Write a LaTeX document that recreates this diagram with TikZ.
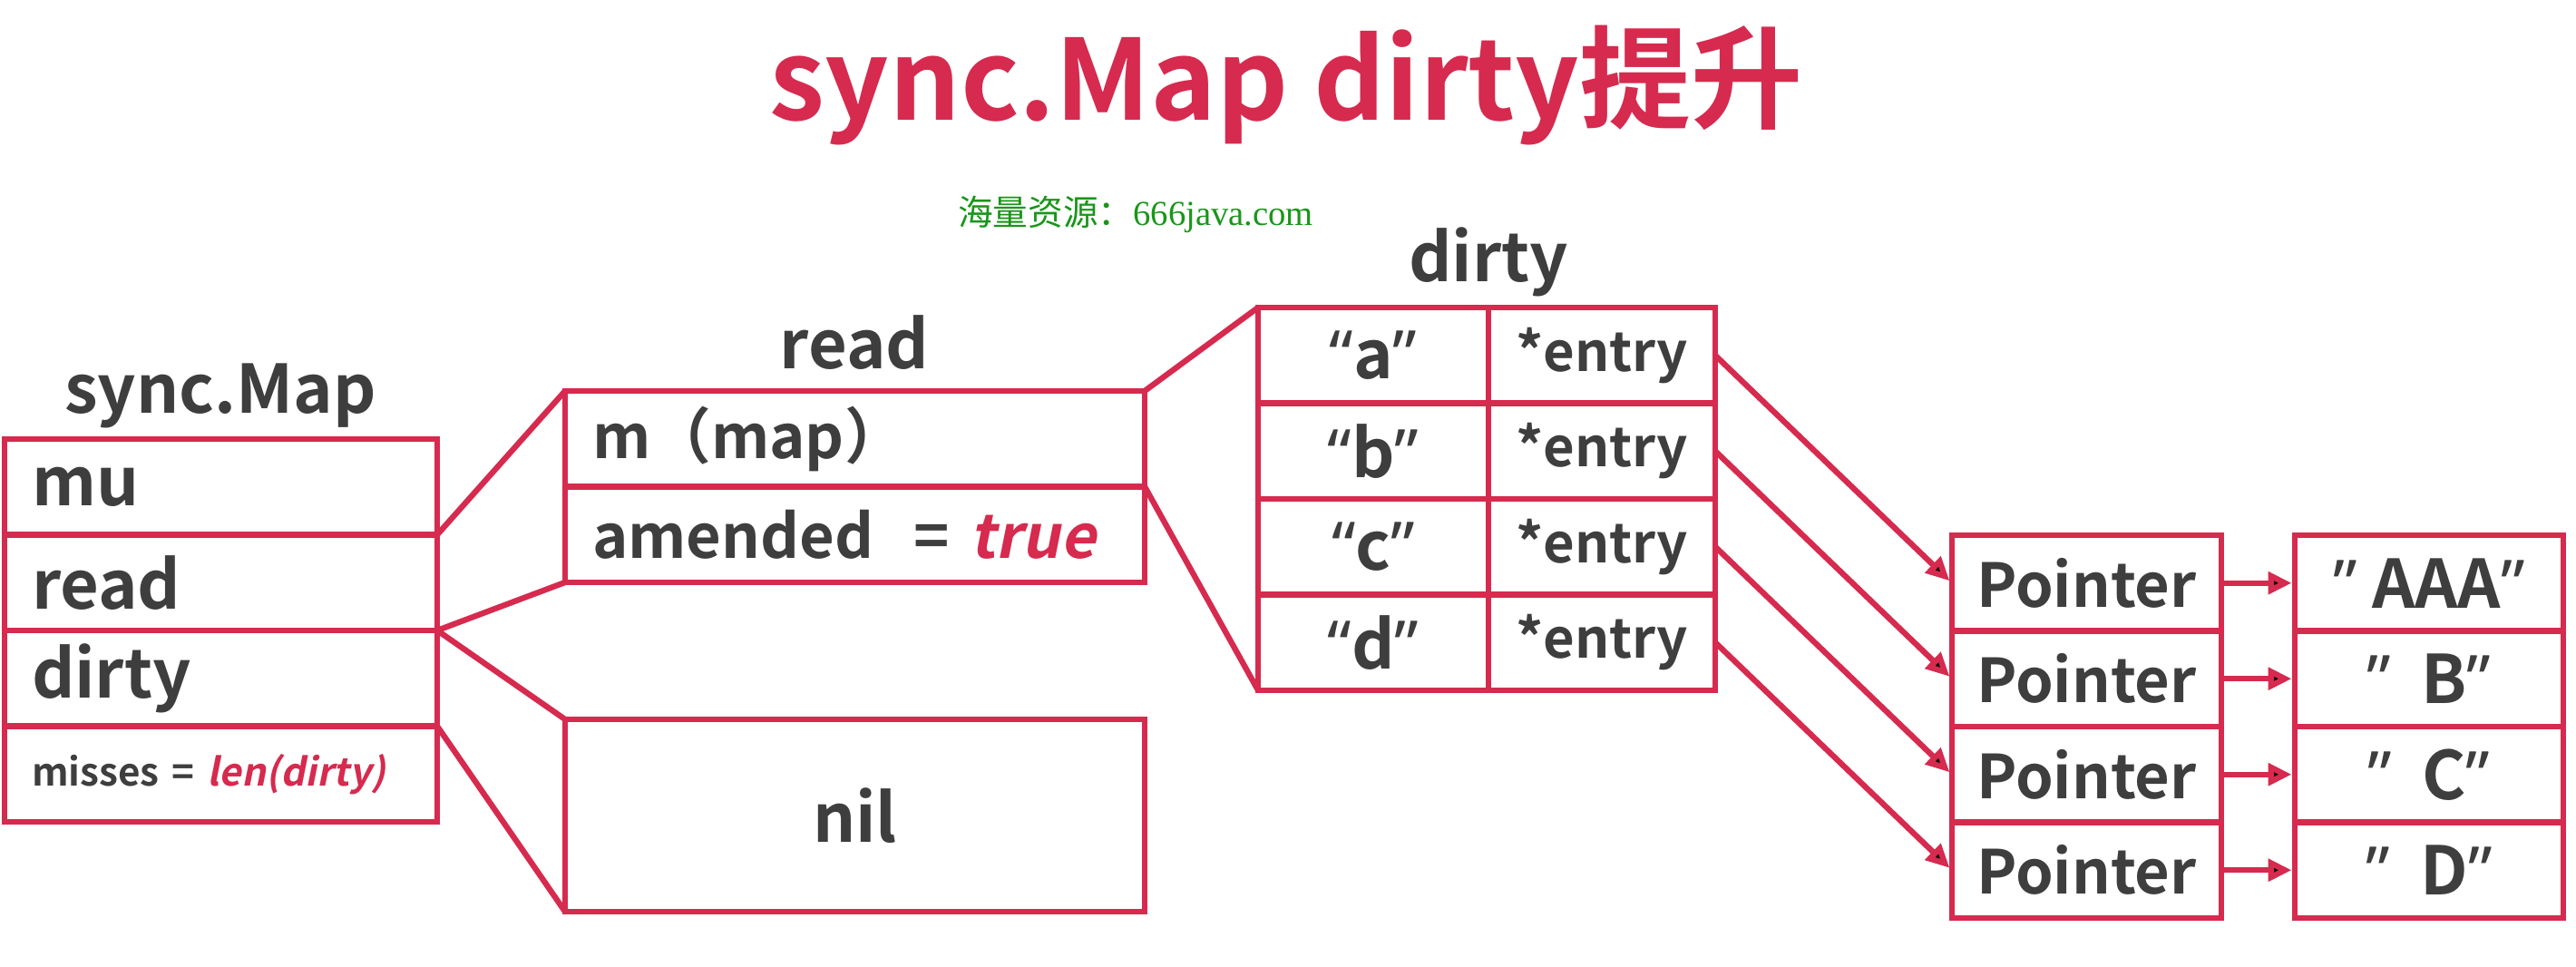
\documentclass[tikz,border=0pt]{standalone}
\usepackage{fontspec}
\setmainfont{Noto Sans CJK SC}[BoldFont={Noto Sans CJK SC Bold},
  ItalicFont={Noto Sans CJK SC}, ItalicFeatures={FakeSlant=0.2},
  BoldItalicFont={Noto Sans CJK SC Bold}, BoldItalicFeatures={FakeSlant=0.2}]
\newfontfamily\qtfont{Noto Sans}
\newfontfamily\wmfont{Liberation Serif}
\usetikzlibrary{positioning,arrows.meta}

\definecolor{crim}{RGB}{214,42,78}
\definecolor{ink}{RGB}{62,62,62}
\definecolor{wmgreen}{RGB}{25,150,25}
\newcommand{\qt}[1]{{\qtfont“}#1{\qtfont”}}
\newcommand{\vq}[1]{{\qtfont”}#1{\qtfont”}}

\begin{document}
\begin{tikzpicture}[
  every node/.style={text=ink, font=\bfseries\fontsize{21}{25}\selectfont},
  cell/.style={draw=crim, line width=1.8pt, outer sep=0pt, minimum height=1.055cm, inner xsep=0.3cm},
  smrow/.style={cell, text width=4.17cm, align=left},
  rdrow/.style={cell, text width=5.79cm, align=left, font=\bfseries\fontsize{19}{23}\selectfont},
  keycell/.style={cell, minimum width=2.54cm},
  entcell/.style={cell, minimum width=2.50cm, inner xsep=0.2cm, font=\bfseries\fontsize{17}{21}\selectfont},
  ptrcell/.style={cell, minimum width=2.97cm, inner xsep=0.2cm, font=\bfseries\fontsize{19}{23}\selectfont},
  valcell/.style={cell, minimum width=2.96cm},
  link/.style={draw=crim, line width=1.8pt},
  tip/.style={-{Triangle[length=0.26cm,width=0.24cm]}, shorten >=1pt}
]
\useasboundingbox (0,0) rectangle (28.4,10.66);

% title
\node[text=crim, font=\bfseries\fontsize{35}{40}\selectfont] (TT) at (14.18,9.72) {sync.Map dirty提升};
\node[text=wmgreen, font=\fontsize{11}{13}\selectfont] (WM) at (12.52,8.30) {海量资源：{\wmfont 666java.com}};

% sync.Map
\node[anchor=base] (SM) at (2.43,6.10) {sync.Map};
\node[smrow, anchor=north west] (MU) at (0.05,5.82) {mu};
\node[smrow, below=0pt of MU] (RD) {read};
\node[smrow, below=0pt of RD] (DT) {dirty};
\node[smrow, below=0pt of DT, font=\bfseries\fontsize{12}{15}\selectfont] (MS) {misses = \textcolor{crim}{\textit{len(dirty)}}};

% read
\node[anchor=base] (RH) at (9.42,6.59) {read};
\node[rdrow, anchor=north west] (MM) at (6.23,6.35) {m（map）};
\node[rdrow, below=0pt of MM] (AM) {amended~~= \textcolor{crim}{\textit{true}}};
\node[cell, anchor=north west, minimum width=6.39cm, minimum height=2.12cm] (NL) at (6.23,2.73) {nil};

% dirty
\node[anchor=base] (DH) at (16.41,7.55) {dirty};
\node[keycell, anchor=north west] (KA) at (13.87,7.27) {\qt{a}};
\node[keycell, below=0pt of KA] (KB) {\qt{b}};
\node[keycell, below=0pt of KB] (KC) {\qt{c}};
\node[keycell, below=0pt of KC] (KD) {\qt{d}};
\node[entcell, right=0pt of KA] (EA) {*entry};
\node[entcell, right=0pt of KB] (EB) {*entry};
\node[entcell, right=0pt of KC] (EC) {*entry};
\node[entcell, right=0pt of KD] (ED) {*entry};

% pointers and values
\node[ptrcell, anchor=north west] (PA) at (21.52,4.76) {Pointer};
\node[ptrcell, below=0pt of PA] (PB) {Pointer};
\node[ptrcell, below=0pt of PB] (PC) {Pointer};
\node[ptrcell, below=0pt of PC] (PD) {Pointer};
\node[valcell, anchor=north west] (VA) at (25.30,4.76) {\vq{~AAA}};
\node[valcell, below=0pt of VA] (VB) {\vq{~~B}};
\node[valcell, below=0pt of VB] (VC) {\vq{~~C}};
\node[valcell, below=0pt of VC] (VD) {\vq{~~D}};

\path[link]
(MU.south east) edge (MM.north west)
(RD.south east) edge (AM.south west)
(RD.south east) edge (NL.north west)
(DT.south east) edge (NL.south west)
(MM.north east) edge (KA.north west)
(MM.south east) edge (KD.south west);

\path[link]
(EA.east) edge[tip] (PA.west)
(EB.east) edge[tip] (PB.west)
(EC.east) edge[tip] (PC.west)
(ED.east) edge[tip] (PD.west)
(PA.east) edge[tip] (VA.west)
(PB.east) edge[tip] (VB.west)
(PC.east) edge[tip] (VC.west)
(PD.east) edge[tip] (VD.west);
\end{tikzpicture}
\end{document}
